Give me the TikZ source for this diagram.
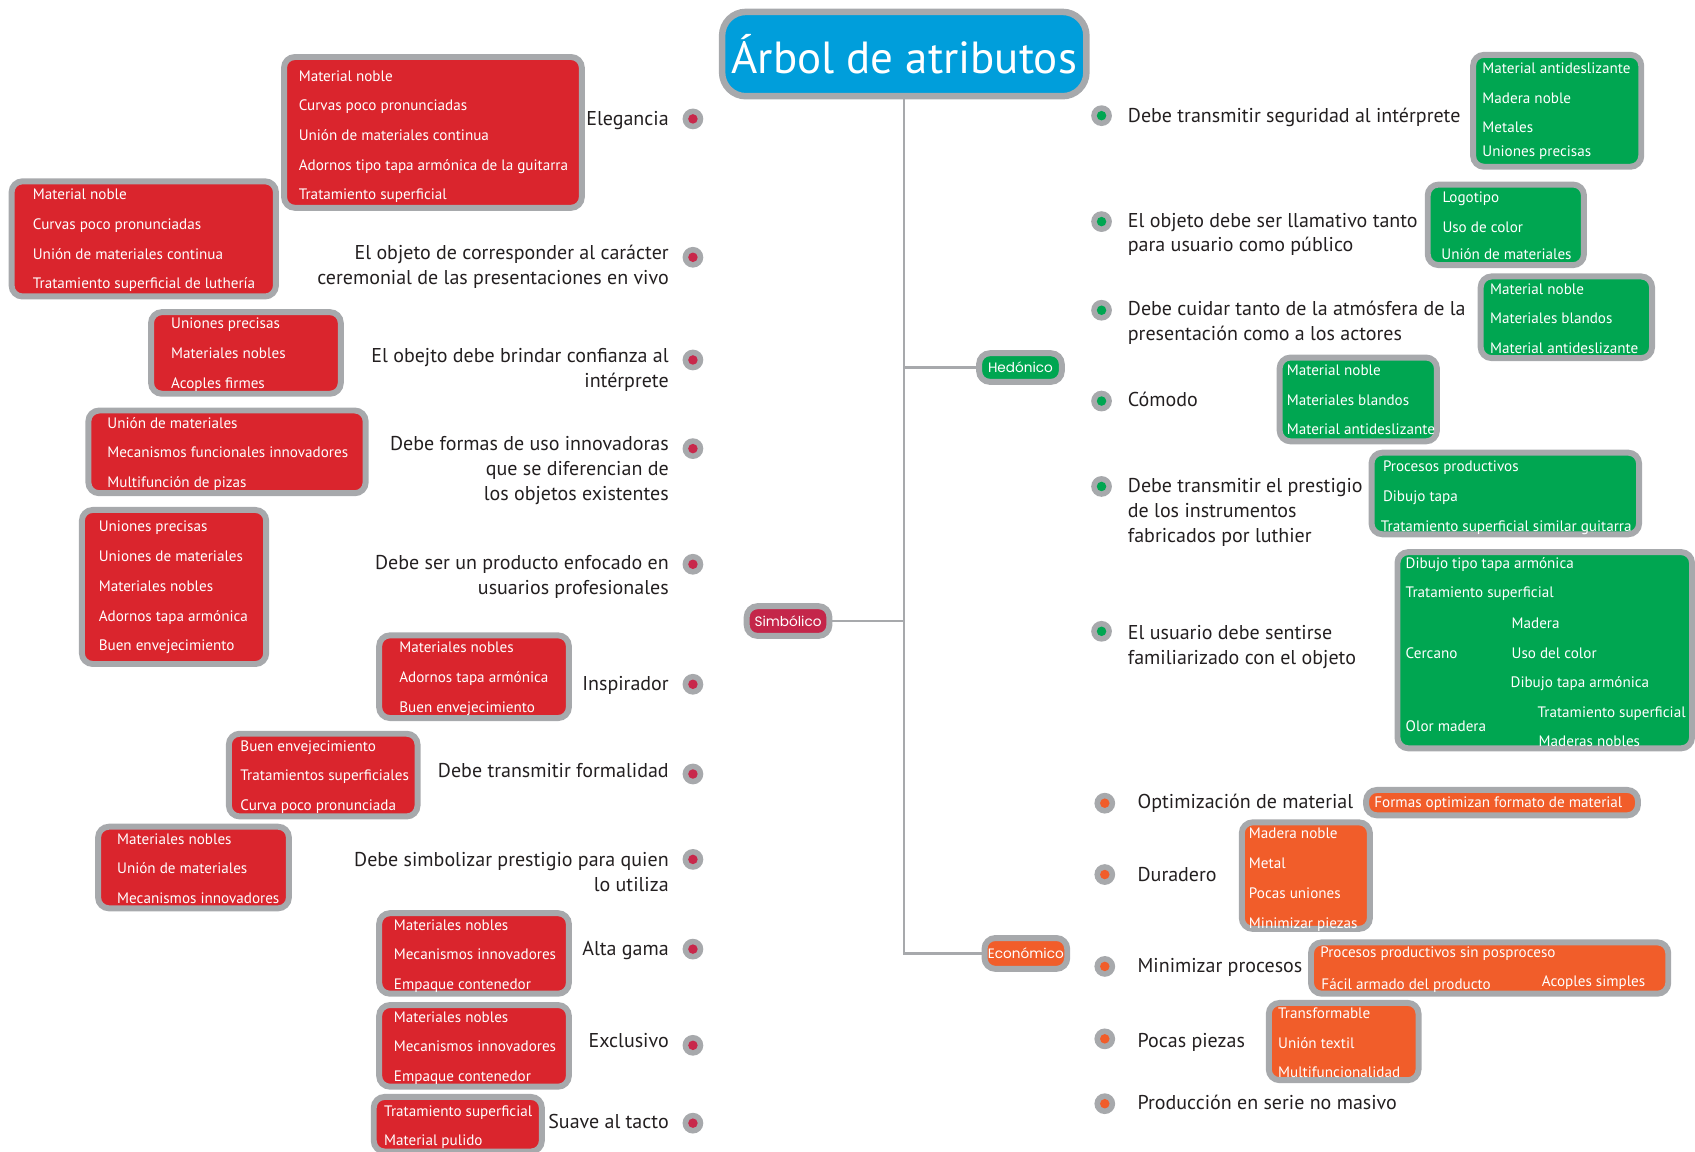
\documentclass[tikz,border=0pt]{standalone}
\usepackage{fontspec}
\setmainfont{PT Sans}
\newfontfamily\catfont{Poppins}

\definecolor{frame}{RGB}{167,169,172}
\definecolor{boxred}{RGB}{218,37,45}
\definecolor{boxgreen}{RGB}{0,166,81}
\definecolor{boxorange}{RGB}{241,93,42}
\definecolor{titleblue}{RGB}{0,158,219}
\definecolor{dotred}{RGB}{200,40,75}
\definecolor{simbred}{RGB}{196,38,74}
\definecolor{ink}{RGB}{35,31,32}

\tikzset{
  attr box/.style={draw=frame, line width=2.75pt, rounded corners=5pt, inner sep=0pt},
  attr item/.style={text=white, font=\fontsize{7}{8}\selectfont, inner sep=0pt},
  attr label/.style={text=ink, font=\fontsize{9.25}{11.5}\selectfont, inner sep=0pt},
  bullet/.style={circle, fill=frame, minimum size=9.6pt, inner sep=0pt,
    path picture={\fill[#1] (path picture bounding box.center) circle (2.2pt);}},
  cat text/.style={text=white, font=\catfont\fontsize{6.3}{7}\selectfont},
  trunk/.style={draw=frame, line width=1pt},
}

% box given by its outer corners (x1,y1) and (x2,y2)
\newcommand\attrbox[7]{%
  \pgfmathsetmacro\abW{(#5-#3-5.5)*0.5}%
  \pgfmathsetmacro\abH{(#6-#4-5.5)*0.5}%
  \node[attr box, fill=#2, minimum width=\abW pt, minimum height=\abH pt, cat text]
    (#1) at ({(#3+#5)/2},{(#4+#6)/2}) {#7};%
}
% items inside a box: x/y/text, y is the visual centre of the line
\newcommand\boxitems[2]{%
  \foreach \ix/\iy/\itxt [count=\ic] in {#2}
    \node[attr item, anchor=base west] (#1-\ic) at (\ix,\iy+5) {\itxt};%
}

\begin{document}
\begin{tikzpicture}[x=0.5pt, y=-0.5pt]
\useasboundingbox (0,0) rectangle (1568,1065);

% ---------- title and trunk ----------
\node[draw=frame, line width=3pt, fill=titleblue, rounded corners=11pt, inner sep=0pt,
      minimum width=168.5pt, minimum height=39pt, text=white,
      font=\fontsize{20.8}{24}\selectfont] (title) at (836.5,50) {Árbol de atributos};

\attrbox{hed}{boxgreen}{903}{324}{985}{356}{Hedónico}
\attrbox{sim}{simbred}{688}{558}{770}{591}{Simbólico}
\attrbox{eco}{boxorange}{908}{865}{990}{899}{Económico}

\coordinate (jh) at (836,340);
\coordinate (js) at (836,574.5);
\draw[trunk] (title.south) |- (eco.west);
\draw[trunk] (jh) -- (hed.west);
\draw[trunk] (js) -- (sim.east);

% ---------- Simbólico: attributes (anchored at the last line) ----------
\foreach \by [count=\bi] in {110,238,333,415,522,633,716,795,878,967,1039}
  \node[bullet=dotred] (sb\bi) at (641,\by) {};

\node[attr label, anchor=base east] (s1) at (619,116) {Elegancia};
\node[attr label, anchor=base east, align=right] (s2) at (619,263)
  {El objeto de corresponder al carácter\\ceremonial de las presentaciones en vivo};
\node[attr label, anchor=base east, align=right] (s3) at (619,358)
  {El obejto debe brindar confianza al\\intérprete};
\node[attr label, anchor=base east, align=right] (s4) at (619,463)
  {Debe formas de uso innovadoras\\que se diferencian de\\los objetos existentes};
\node[attr label, anchor=base east, align=right] (s5) at (619,550)
  {Debe ser un producto enfocado en\\usuarios profesionales};
\node[attr label, anchor=base east] (s6) at (619,639) {Inspirador};
\node[attr label, anchor=base east] (s7) at (619,719) {Debe transmitir formalidad};
\node[attr label, anchor=base east, align=right] (s8) at (619,825)
  {Debe simbolizar prestigio para quien\\lo utiliza};
\node[attr label, anchor=base east] (s9) at (619,884) {Alta gama};
\node[attr label, anchor=base east] (s10) at (619,969) {Exclusivo};
\node[attr label, anchor=base east] (s11) at (619,1044) {Suave al tacto};

% ---------- Simbólico: features ----------
\attrbox{r1}{boxred}{260}{50}{541}{195}{}
\boxitems{r1}{276/70/Material noble, 276/97.5/Curvas poco pronunciadas,
  276/125/Unión de materiales continua, 276/152.5/Adornos tipo tapa armónica de la guitarra,
  276/180/Tratamiento superficial}
\attrbox{r2}{boxred}{8}{165}{258}{277}{}
\boxitems{r2}{30/180/Material noble, 30/207.5/Curvas poco pronunciadas,
  30/235/Unión de materiales continua, 30/262/Tratamiento superficial de luthería}
\attrbox{r3}{boxred}{137}{286}{318}{367}{}
\boxitems{r3}{158/299/Uniones precisas, 158/326.5/Materiales nobles, 158/354/Acoples firmes}
\attrbox{r4}{boxred}{79}{377}{341}{459}{}
\boxitems{r4}{99/391/Unión de materiales, 99/418.5/Mecanismos funcionales innovadores,
  99/446/Multifunción de pizas}
\attrbox{r5}{boxred}{73}{469}{249}{617}{}
\boxitems{r5}{91/487/Uniones precisas, 91/514.5/Uniones de materiales,
  91/542/Materiales nobles, 91/569.5/Adornos tapa armónica, 91/597/Buen envejecimiento}
\attrbox{r6}{boxred}{348}{585}{529}{667}{}
\boxitems{r6}{369/599/Materiales nobles, 369/626.5/Adornos tapa armónica,
  369/654/Buen envejecimiento}
\attrbox{r7}{boxred}{209}{676}{389}{758}{}
\boxitems{r7}{222/690/Buen envejecimiento, 222/717/Tratamientos superficiales,
  222/745/Curva poco pronunciada}
\attrbox{r8}{boxred}{88}{762}{270}{843}{}
\boxitems{r8}{108/776/Materiales nobles, 108/803.5/Unión de materiales,
  108/831/Mecanismos innovadores}
\attrbox{r9}{boxred}{348}{842}{529}{922}{}
\boxitems{r9}{364/856/Materiales nobles, 364/883/Mecanismos innovadores,
  364/910/Empaque contenedor}
\attrbox{r10}{boxred}{348}{927}{529}{1008}{}
\boxitems{r10}{364/941/Materiales nobles, 364/968/Mecanismos innovadores,
  364/995/Empaque contenedor}
\attrbox{r11}{boxred}{343}{1012}{504}{1068}{}
\boxitems{r11}{355/1028/Tratamiento superficial, 355/1055/Material pulido}

% ---------- Hedónico: attributes (anchored at the last line) ----------
\foreach \by [count=\bi] in {107,205,287,371,450,584}
  \node[bullet=boxgreen] (hb\bi) at (1019,\by) {};

\node[attr label, anchor=base west] (h1) at (1043,113) {Debe transmitir seguridad al intérprete};
\node[attr label, anchor=base west, align=left] (h2) at (1043,233)
  {El objeto debe ser llamativo tanto\\para usuario como público};
\node[attr label, anchor=base west, align=left] (h3) at (1043,315)
  {Debe cuidar tanto de la atmósfera de la\\presentación como a los actores};
\node[attr label, anchor=base west] (h4) at (1043,376) {Cómodo};
\node[attr label, anchor=base west, align=left] (h5) at (1043,502)
  {Debe transmitir el prestigio\\de los instrumentos\\fabricados por luthier};
\node[attr label, anchor=base west, align=left] (h6) at (1043,615)
  {El usuario debe sentirse\\familiarizado con el objeto};

% ---------- Hedónico: features ----------
\attrbox{g1}{boxgreen}{1360}{48}{1521}{157}{}
\boxitems{g1}{1371/63/Material antideslizante, 1371/91/Madera noble,
  1371/118/Metales, 1371/140/Uniones precisas}
\attrbox{g2}{boxgreen}{1318}{168}{1468}{248}{}
\boxitems{g2}{1334/182/Logotipo, 1334/210/Uso de color, 1333/235/Unión de materiales}
\attrbox{g3}{boxgreen}{1367}{253}{1531}{334}{}
\boxitems{g3}{1378/267/Material noble, 1378/294/Materiales blandos,
  1378/322/Material antideslizante}
\attrbox{g4}{boxgreen}{1181}{328}{1332}{411}{}
\boxitems{g4}{1190/342/Material noble, 1190/370/Materiales blandos,
  1190/397/Material antideslizante}
\attrbox{g5}{boxgreen}{1266}{416}{1519}{497}{}
\boxitems{g5}{1279/431/Procesos productivos, 1279/459/Dibujo tapa,
  1277/487/Tratamiento superficial similar guitarra}
\attrbox{g6}{boxgreen}{1290}{508}{1568}{695}{}
\boxitems{g6}{1300/521/Dibujo tipo tapa armónica, 1300/548/Tratamiento superficial,
  1398/576/Madera, 1300/604/Cercano, 1398/604/Uso del color,
  1397/631/Dibujo tapa armónica, 1422/659/Tratamiento superficial,
  1300/672/Olor madera, 1423/686/Maderas nobles}

% ---------- Económico: attributes ----------
\foreach \by [count=\bi] in {743,809,894,961,1021}
  \node[bullet=boxorange] (eb\bi) at (1022,\by) {};

\node[attr label, anchor=base west] (e1) at (1052,748) {Optimización de material};
\node[attr label, anchor=base west] (e2) at (1052,815) {Duradero};
\node[attr label, anchor=base west] (e3) at (1052,900) {Minimizar procesos};
\node[attr label, anchor=base west] (e4) at (1052,969) {Pocas piezas};
\node[attr label, anchor=base west] (e5) at (1052,1026) {Producción en serie no masivo};

% ---------- Económico: features ----------
\attrbox{o1}{boxorange}{1261}{728}{1518}{757}{}
\boxitems{o1}{1271/742/Formas optimizan formato de material}
\attrbox{o2}{boxorange}{1146}{758}{1270}{862}{}
\boxitems{o2}{1155/771/Madera noble, 1155/798/Metal, 1155/826/Pocas uniones,
  1155/854/Minimizar piezas}
\attrbox{o3}{boxorange}{1210}{869}{1546}{922}{}
\boxitems{o3}{1221/881/Procesos productivos sin posproceso,
  1222/910/Fácil armado del producto, 1426/908/Acoples simples}
\attrbox{o4}{boxorange}{1171}{925}{1315}{1002}{}
\boxitems{o4}{1182/937/Transformable, 1182/965/Unión textil, 1182/992/Multifuncionalidad}
\end{tikzpicture}
\end{document}
